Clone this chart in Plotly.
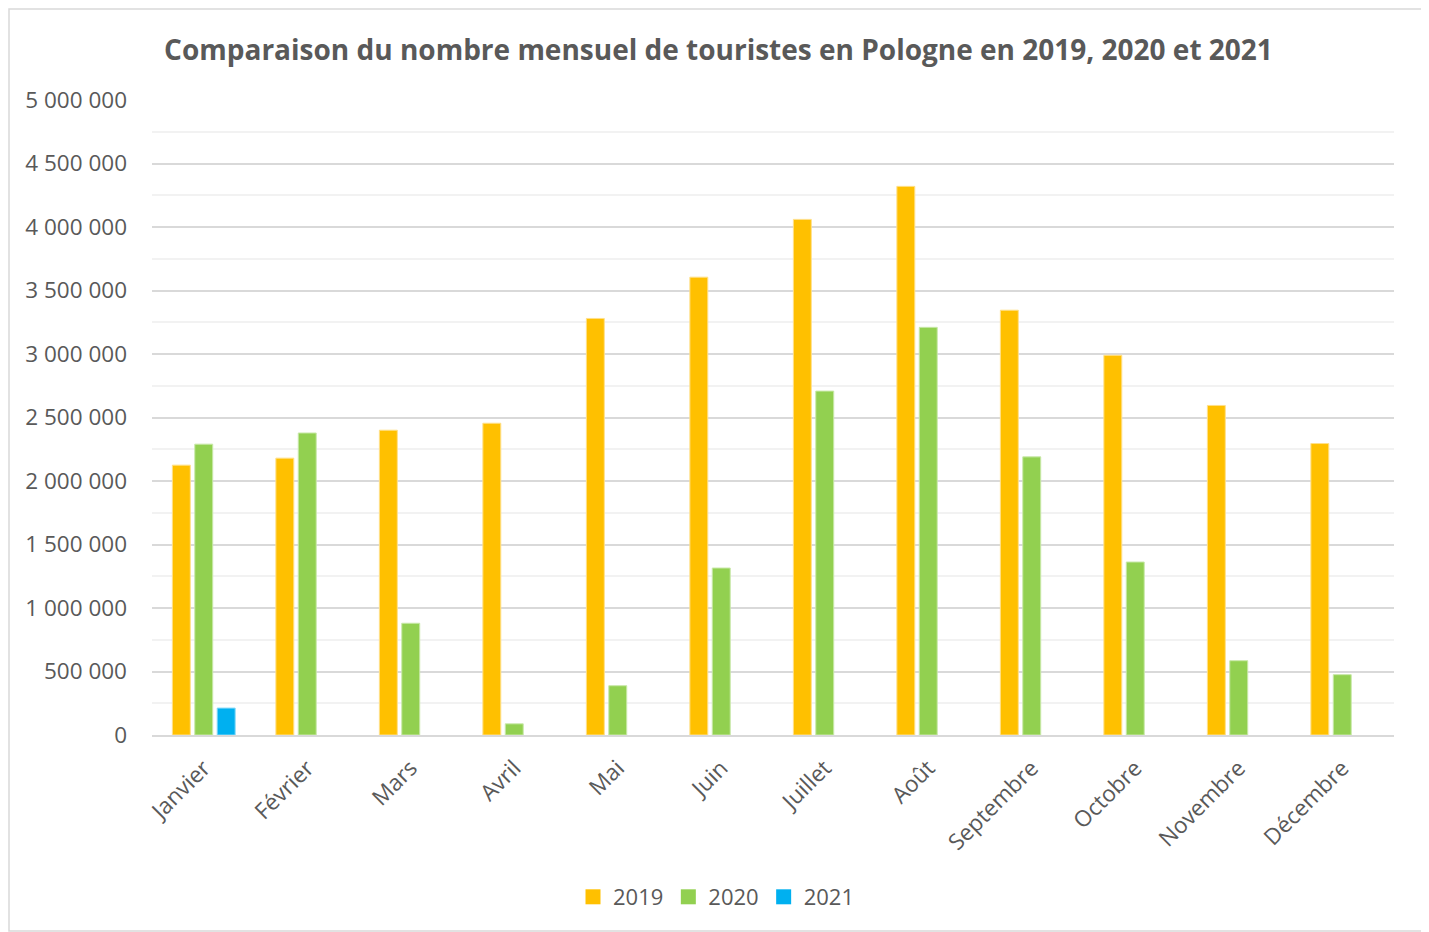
import plotly.graph_objects as go

months = ["Janvier", "Février", "Mars", "Avril", "Mai", "Juin", "Juillet",
          "Août", "Septembre", "Octobre", "Novembre", "Décembre"]
v2019 = [2125000, 2180000, 2400000, 2455000, 3280000, 3605000, 4060000,
         4320000, 3345000, 2990000, 2595000, 2295000]
v2020 = [2290000, 2378000, 880000, 88000, 388000, 1315000, 2708000,
         3210000, 2190000, 1362000, 585000, 475000]
v2021 = [212000, None, None, None, None, None, None, None, None, None, None, None]

series = [("2019", v2019, "#FFC000", "#FFE08A"),
          ("2020", v2020, "#92D050", "#C8E8A8"),
          ("2021", v2021, "#00B0F0", "#80D8F8")]

fig = go.Figure()
for name, vals, col, edge in series:
    fig.add_trace(go.Bar(name=name, x=months, y=vals, marker_color=col,
                         marker_line=dict(color=edge, width=1), showlegend=False))
# legend entries with square swatches
for name, vals, col, edge in series:
    fig.add_trace(go.Scatter(name=name, x=[None], y=[None], mode="markers",
                             marker=dict(symbol="square", size=15, color=col),
                             showlegend=True))

OFF = 8  # page body margin
W, H = 1429 - OFF, 932 - OFF
L, R, T, B = 152 - OFF, 35, 100 - OFF, 197
pw, ph = W - L - R, H - T - B

def px_x(p):  # page pixel -> paper x
    return (p - 152) / pw

def px_y(p):  # page pixel -> paper y
    return (735 - p) / ph

fig.update_layout(
    width=W, height=H,
    margin=dict(l=L, r=R, t=T, b=B, autoexpand=False),
    paper_bgcolor="white", plot_bgcolor="white",
    separators=", ",
    barmode="group", bargap=0.35, bargroupgap=0.2,
    font=dict(family="Open Sans", color="#595959"),
    title=dict(text="<b>Comparaison du nombre mensuel de touristes en Pologne en 2019, 2020 et 2021</b>",
               x=0.5, xref="container", xanchor="center",
               y=1 - (50 - OFF) / H, yanchor="middle",
               font=dict(size=28, color="#595959", family="Open Sans")),
    legend=dict(orientation="h", x=px_x(716), xanchor="center",
                y=px_y(897), yanchor="middle",
                font=dict(size=22, color="#595959"), itemwidth=30,
                traceorder="normal", tracegroupgap=0),
    xaxis=dict(tickangle=-45, tickfont=dict(size=22.5, color="#595959"),
               showline=True, linecolor="#D9D9D9", linewidth=2, ticks="",
               ticklabelstandoff=9),
    yaxis=dict(range=[0, 5000000], dtick=500000, tickformat=",d",
               tickfont=dict(size=22.5, color="#595959"),
               showgrid=True, gridcolor="#D9D9D9", gridwidth=2,
               zeroline=False, ticks="", ticklabelstandoff=24,
               minor=dict(dtick=250000, showgrid=True, gridcolor="#F2F2F2", gridwidth=2)),
    shapes=[dict(type="rect", xref="paper", yref="paper",
                 x0=px_x(9), x1=px_x(1424), y0=px_y(931), y1=px_y(9),
                 line=dict(color="#D9D9D9", width=1.5), layer="below")],
)

fig.write_html("out.html")
